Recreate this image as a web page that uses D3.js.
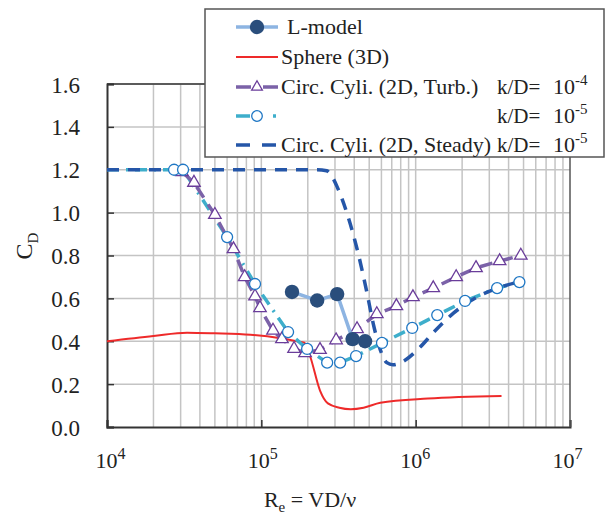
<!DOCTYPE html>
<html><head><meta charset="utf-8">
<script src="https://cdn.jsdelivr.net/npm/d3@7"></script>
<style>body{margin:0;background:#fff}svg{display:block}svg text{font-family:'Liberation Serif',serif !important;fill:#222}</style>
</head><body>
<svg id="c" width="608" height="515" style="font-family:'Liberation Serif',serif"></svg>
<script>
// ---- data ----
const yTicks = [0.0,0.2,0.4,0.6,0.8,1.0,1.2,1.4,1.6];
const xTickExp = [4,5,6,7];
const lModel = [[1.58e5,0.63],[2.3e5,0.59],[3.1e5,0.62],[3.9e5,0.41],[4.7e5,0.40]];
const sphere = [[1e4,0.40],[2e4,0.425],[3.3e4,0.44],[5e4,0.437],[8.5e4,0.43],[1.3e5,0.415],[1.7e5,0.40],[1.9e5,0.393],[2.07e5,0.33],[2.4e5,0.17],[2.7e5,0.11],[3.2e5,0.09],[3.8e5,0.083],[4.6e5,0.09],[5.9e5,0.113],[1.2e6,0.133],[3.6e6,0.145]];
const turb4 = [[3.06e4,1.19],[3.66e4,1.14],[5.0e4,0.99],[6.6e4,0.83],[7.8e4,0.70],[9.1e4,0.61],[9.8e4,0.555],[1.19e5,0.45],[1.36e5,0.41],[1.63e5,0.365],[1.92e5,0.345],[2.4e5,0.36],[3.05e5,0.405],[4.17e5,0.457],[5.6e5,0.527],[7.5e5,0.564],[9.6e5,0.606],[1.3e6,0.648],[1.83e6,0.70],[2.46e6,0.742],[3.5e6,0.774],[4.8e6,0.80]];
const turb5 = [[1e4,1.2],[2.72e4,1.2],[3.11e4,1.2],[6.0e4,0.886],[9.1e4,0.667],[1.49e5,0.443],[1.98e5,0.364],[2.67e5,0.30],[3.24e5,0.30],[4.11e5,0.331],[6.05e5,0.392],[9.5e5,0.462],[1.38e6,0.522],[2.09e6,0.588],[3.37e6,0.648],[4.7e6,0.676]];
const steady5 = [[1e4,1.2],[1e5,1.2],[2.3e5,1.2],[2.65e5,1.195],[2.8e5,1.18],[3.1e5,1.12],[3.65e5,0.98],[4.24e5,0.81],[4.84e5,0.625],[5.3e5,0.485],[5.9e5,0.36],[6.5e5,0.30],[7.1e5,0.29],[8.0e5,0.30],[1.07e6,0.373],[1.3e6,0.44],[1.75e6,0.53],[2.5e6,0.606],[3.4e6,0.648],[4.6e6,0.676]];

const C = {lLine:"#8db4e2", lDot:"#2a4e7c", red:"#ee2a2a", purple:"#7b62a8", tri:"#6a3d9a", cyan:"#3eaecb", circ:"#1f77c4", navy:"#2556a8", grid:"#c4c4c4", axis:"#333"};
const FF = "'Liberation Serif', serif";

const svg = d3.select("#c");
const x = d3.scaleLog().domain([1e4,1e7]).range([107,570]);
const y = d3.scaleLinear().domain([0,1.6]).range([427,84]);

// grid
const minor = [];
for (let e=4;e<7;e++) for (let m=1;m<10;m++) minor.push(m*Math.pow(10,e));
svg.append("g").selectAll("line").data(minor.filter(v=>v>1e4)).join("line")
  .attr("x1",d=>x(d)).attr("x2",d=>x(d)).attr("y1",y(0)).attr("y2",y(1.6))
  .attr("stroke",C.grid).attr("stroke-width",1.5);
svg.append("g").selectAll("line").data(yTicks.slice(1)).join("line")
  .attr("x1",x(1e4)).attr("x2",x(1e7)).attr("y1",d=>y(d)).attr("y2",d=>y(d))
  .attr("stroke",C.grid).attr("stroke-width",1.5);

// axes
const yAxis = d3.axisLeft(y).tickValues(yTicks).tickSize(-7).tickPadding(27).tickFormat(d3.format(".1f"));
const gy = svg.append("g").attr("transform",`translate(${x(1e4)},0)`).call(yAxis).attr("font-family",FF);
gy.select(".domain").attr("stroke",C.axis).attr("stroke-width",2);
gy.selectAll(".tick line").attr("stroke",C.axis).attr("stroke-width",1.5);
gy.selectAll(".tick text").attr("font-size",23).style("font-family",FF).attr("fill","#222").attr("dy","0.35em");

const xAxis = d3.axisBottom(x).tickValues(xTickExp.map(e=>Math.pow(10,e))).tickSize(-7).tickFormat("");
const gx = svg.append("g").attr("transform",`translate(0,${y(0)})`).call(xAxis).attr("font-family",FF);
gx.select(".domain").attr("stroke",C.axis).attr("stroke-width",2);
gx.selectAll(".tick line").attr("stroke",C.axis).attr("stroke-width",1.5);
gx.selectAll(".tick").each(function(d,i){
  const t = d3.select(this).append("text").attr("y",41).attr("text-anchor","middle").attr("fill","#222").attr("font-size",22).attr("dx", 3 - i*2).style("font-family",FF);
  t.append("tspan").text("10");
  t.append("tspan").attr("dy",-9).attr("font-size",16).text(xTickExp[i]);
});
// top/right frame
svg.append("line").attr("x1",x(1e4)).attr("x2",x(1e7)).attr("y1",y(1.6)).attr("y2",y(1.6)).attr("stroke",C.axis).attr("stroke-width",1.5);
svg.append("line").attr("x1",x(1e7)).attr("x2",x(1e7)).attr("y1",y(1.6)).attr("y2",y(0)).attr("stroke","#555").attr("stroke-width",1.5);

// axis titles
const xt = svg.append("text").attr("x",310).attr("y",507).attr("text-anchor","middle").attr("font-size",22).style("font-family",FF);
xt.append("tspan").text("R");
xt.append("tspan").attr("dy",5).attr("font-size",15).text("e");
xt.append("tspan").attr("dy",-5).text(" =  VD/ν");
const yt = svg.append("text").attr("transform","translate(32,246) rotate(-90)").attr("text-anchor","middle").attr("font-size",24).style("font-family",FF);
yt.append("tspan").text("C");
yt.append("tspan").attr("dy",6).attr("font-size",15).text("D");

// lines
const lineLin = d3.line().x(d=>x(d[0])).y(d=>y(d[1]));
const lineSm = d3.line().x(d=>x(d[0])).y(d=>y(d[1])).curve(d3.curveMonotoneX);
const plot = svg.append("g");
plot.append("path").datum(sphere).attr("d",lineSm).attr("fill","none").attr("stroke",C.red).attr("stroke-width",2);
plot.append("path").datum(turb5).attr("d",lineLin).attr("fill","none").attr("stroke",C.cyan).attr("stroke-width",3.5).attr("stroke-dasharray","12,7,2,7");
plot.append("path").datum(turb4).attr("d",lineLin).attr("fill","none").attr("stroke",C.purple).attr("stroke-width",3.5).attr("stroke-dasharray","13,8");
plot.append("path").datum(steady5).attr("d",lineSm).attr("fill","none").attr("stroke",C.navy).attr("stroke-width",3.5).attr("stroke-dasharray","12,9");

const tri = d3.symbol(d3.symbolTriangle, 68);
plot.append("g").selectAll("path").data(turb4).join("path").attr("d",tri)
  .attr("transform",d=>`translate(${x(d[0])},${y(d[1])})`).attr("fill","#fff").attr("stroke",C.tri).attr("stroke-width",1.3);
plot.append("g").selectAll("circle").data(turb5.slice(1)).join("circle")
  .attr("cx",d=>x(d[0])).attr("cy",d=>y(d[1])).attr("r",5.5).attr("fill","#fff").attr("stroke",C.circ).attr("stroke-width",1.3);

plot.append("path").datum(lModel).attr("d",lineLin).attr("fill","none").attr("stroke",C.lLine).attr("stroke-width",3.5);
plot.append("g").selectAll("circle").data(lModel).join("circle")
  .attr("cx",d=>x(d[0])).attr("cy",d=>y(d[1])).attr("r",7.2).attr("fill",C.lDot);

// legend
const lg = svg.append("g");
lg.append("rect").attr("x",205).attr("y",9).attr("width",399).attr("height",148).attr("fill","#fff").attr("stroke","#555").attr("stroke-width",1.5);
const rows = [27,57,87,116,145];
const lx1 = 236, lx2 = 278;
lg.append("line").attr("x1",lx1).attr("x2",lx2).attr("y1",rows[0]).attr("y2",rows[0]).attr("stroke",C.lLine).attr("stroke-width",3.5);
lg.append("circle").attr("cx",257).attr("cy",rows[0]).attr("r",7.2).attr("fill",C.lDot);
lg.append("line").attr("x1",lx1).attr("x2",lx2).attr("y1",rows[1]).attr("y2",rows[1]).attr("stroke",C.red).attr("stroke-width",2);
lg.append("line").attr("x1",lx1).attr("x2",lx2).attr("y1",rows[2]).attr("y2",rows[2]).attr("stroke",C.purple).attr("stroke-width",3.5).attr("stroke-dasharray","15,12,15");
lg.append("path").attr("d",d3.symbol(d3.symbolTriangle, 50)).attr("transform",`translate(257,${rows[2]})`).attr("fill","#fff").attr("stroke",C.tri).attr("stroke-width",1.3);
lg.append("line").attr("x1",lx1).attr("x2",lx2).attr("y1",rows[3]).attr("y2",rows[3]).attr("stroke",C.cyan).attr("stroke-width",3.5).attr("stroke-dasharray","14,23,3,10");
lg.append("circle").attr("cx",257).attr("cy",rows[3]).attr("r",5.3).attr("fill","#fff").attr("stroke",C.circ).attr("stroke-width",1.3);
lg.append("line").attr("x1",lx1).attr("x2",lx2).attr("y1",rows[4]).attr("y2",rows[4]).attr("stroke",C.navy).attr("stroke-width",3.5).attr("stroke-dasharray","14,12,14");

const labels = ["L-model","Sphere (3D)","Circ. Cyli. (2D, Turb.)","","Circ. Cyli. (2D, Steady)"];
const lxT = [287,281,281,281,281];
labels.forEach((t,i)=>{ if(t) lg.append("text").attr("x",lxT[i]).attr("y",rows[i]+7).attr("font-size",22).style("font-family",FF).text(t); });
const kd = [[2,"-4"],[3,"-5"],[4,"-5"]];
kd.forEach(([i,e])=>{
  lg.append("text").attr("x",497).attr("y",rows[i]+7).attr("font-size",21).style("font-family",FF).text("k/D=");
  const t = lg.append("text").attr("x",553).attr("y",rows[i]+7).attr("font-size",22).style("font-family",FF);
  t.append("tspan").text("10");
  t.append("tspan").attr("dy",-9).attr("font-size",15).text(e);
});
</script>
</body></html>
